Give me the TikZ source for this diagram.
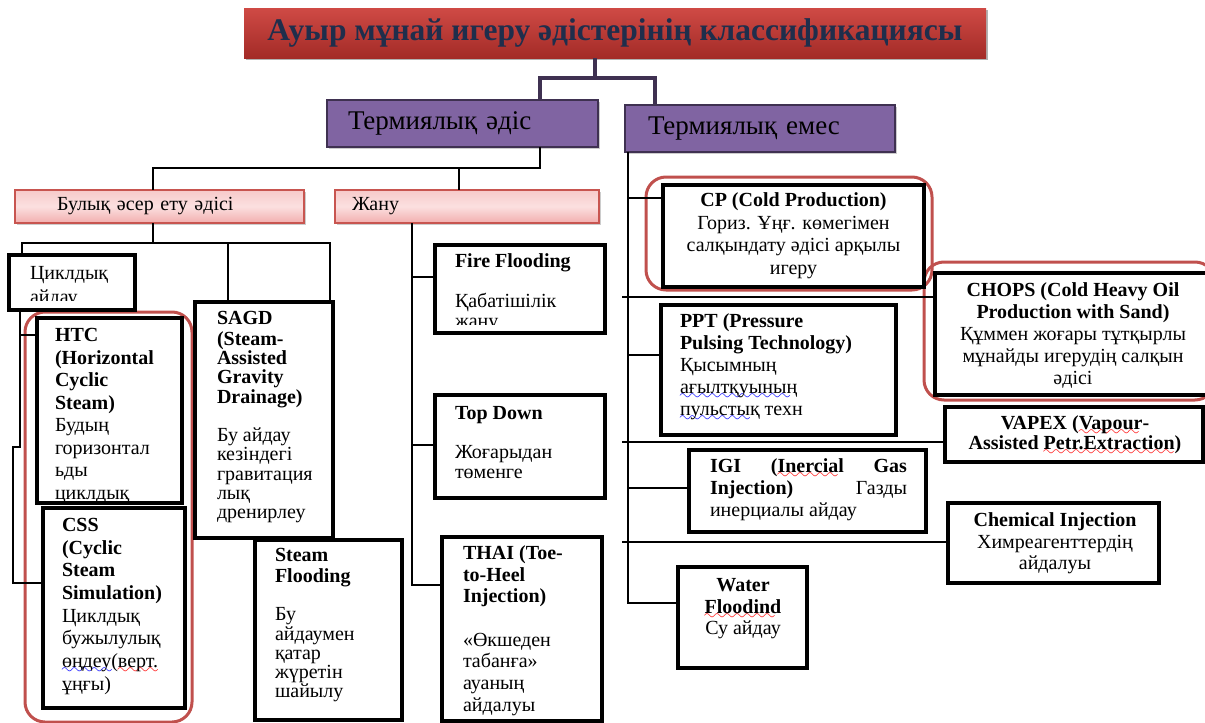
\documentclass[tikz,border=0pt]{standalone}
\usepackage{fontspec}
\setmainfont{Liberation Serif}
\usepackage{tikz}
\usetikzlibrary{positioning, shadows}

\definecolor{titletop}{HTML}{CF4A45}
\definecolor{titlebot}{HTML}{A32B27}
\definecolor{titleink}{HTML}{1F2E4C}
\definecolor{groupfill}{HTML}{8064A2}
\definecolor{groupline}{HTML}{3F3151}
\definecolor{subtop}{HTML}{F7CACA}
\definecolor{submid}{HTML}{FBE0E0}
\definecolor{subbot}{HTML}{F2AEAE}
\definecolor{subline}{HTML}{C85550}
\definecolor{marker}{HTML}{C0504D}

% spell-check style wavy underline
\font\wavefont=lasy10 at 15pt
\newcommand{\wavy}[2]{\setbox0\hbox{#2}\rlap{\lower6pt\hbox to \wd0{\color{#1}\leaders\hbox{\wavefont\char58}\hfill}}\box0\relax}
\newcommand{\textinset}{0pt}

\begin{document}
\begin{tikzpicture}[x=1pt, y=-1pt,
        heading/.style={rectangle, outer sep=0pt, minimum width=742pt, minimum height=50pt, top color=titletop, bottom color=titlebot, text=titleink, font=\bfseries\fontsize{31.5}{34}\selectfont, drop shadow={shadow xshift=2pt, shadow yshift=-2pt, opacity=0.3, fill=black}},
        group/.style={rectangle, draw=groupline, line width=2.5pt, fill=groupfill, anchor=north west, outer sep=0pt, minimum height=47pt, align=left, font=\fontsize{27}{30}\selectfont, drop shadow={shadow xshift=1.5pt, shadow yshift=-1.5pt, opacity=0.2, fill=black}},
        subgroup/.style={rectangle, draw=subline, line width=1.2pt, top color=subtop, bottom color=subbot, middle color=submid, anchor=north west, outer sep=0pt, minimum height=33pt, align=left, font=\fontsize{20}{23}\selectfont, drop shadow={shadow xshift=1.5pt, shadow yshift=-2pt, opacity=0.2, fill=black}},
        method/.style={rectangle, draw=black, line width=3.2pt, fill=white, anchor=north west, outer sep=0pt, inner sep=0pt},
        inbox/.style={draw=none, fill=none, minimum width=0pt, minimum height=0pt, inner sep=0pt, line width=0.4pt},
        inset/.code={\def\textinset{#1}},
        lefttext/.style n args={3}{path picture={\clip ([yshift=\textinset]path picture bounding box.south west) rectangle (path picture bounding box.north east); \node[inbox, anchor=north west, align=left, font=\fontsize{20}{#2}\selectfont] at ([shift={#1}]path picture bounding box.north west) {\strut#3};}},
        midtext/.style n args={3}{path picture={\node[inbox, anchor=north, align=center, font=\fontsize{20}{#2}\selectfont] at ([shift={#1}]path picture bounding box.north) {\strut#3};}},
        link/.style={draw=black, line width=1.1pt},
        trunk/.style={draw=groupline, line width=4.5pt},
        marked/.style={draw=marker, line width=3pt, rounded corners=20pt}
    ]
    \useasboundingbox (0,0) rectangle (1205,723);
    \clip (0,0) rectangle (1205,723);

    % highlighted methods
    \draw[marked] (25,312) rectangle (192,722);
    \draw[marked] (646,177) rectangle (932,290);
    \draw[marked] (924,262) rectangle (1215,400);

    % headings
    \node[heading] (title) at (615,33) {Ауыр мұнай игеру әдістерінің классификациясы};
    \node[group, text width=229pt, inner xsep=21pt] (therm) at (327,100) {Термиялық әдіс};
    \node[group, text width=224pt, inner xsep=23pt] (nontherm) at (625,105) {Термиялық емес};
    \node[subgroup, text width=205pt, inner xsep=42pt] (steam) at (15,190) {Булық әсер ету әдісі};
    \node[subgroup, text width=230pt, inner xsep=17pt] (burn) at (335,190) {\raisebox{-4pt}{Жану}};

    % thermal methods
    \node[method, minimum width=126pt, minimum height=55pt, inset=10pt,
        lefttext={(21pt,-7.1pt)}{24.5}{Циклдық\\айдау}] (cyc) at (9,255) {};
    \node[method, minimum width=145pt, minimum height=185pt, inset=3pt,
        lefttext={(18pt,-7.8pt)}{22.5}{\textbf{HTC}\\\textbf{(Horizontal}\\\textbf{Cyclic}\\\textbf{Steam)}\\Будың\\горизонтал\\ьды\\циклдық}] (htc) at (37,318) {};
    \node[method, minimum width=142pt, minimum height=200pt,
        lefttext={(19pt,-7.6pt)}{22.7}{\textbf{CSS}\\\textbf{(Cyclic}\\\textbf{Steam}\\\textbf{Simulation)}\\Циклдық\\бужылулық\\\wavy{blue}{өңдеу(}\wavy{red}{верт.}\\ұңғы)}] (css) at (43,508) {};
    \node[method, minimum width=138pt, minimum height=236pt,
        lefttext={(22pt,-9pt)}{19.3}{\textbf{SAGD}\\\textbf{(Steam-}\\\textbf{Assisted}\\\textbf{Gravity}\\\textbf{Drainage)}\\ \\Бу айдау\\кезіндегі\\гравитация\\лық\\дренирлеу}] (sagd) at (195,302) {};
    \node[method, minimum width=147pt, minimum height=180pt,
        lefttext={(20pt,-8pt)}{19.3}{\textbf{Steam}\\\textbf{Flooding}\\ \\Бу\\айдаумен\\қатар\\жүретін\\шайылу}] (flood) at (255,540) {};
    \node[method, minimum width=170pt, minimum height=88pt, inset=9pt,
        lefttext={(20pt,-8.5pt)}{20}{\textbf{Fire Flooding}\\ \\Қабатішілік\\жану}] (fire) at (435,245) {};
    \node[method, minimum width=170pt, minimum height=103pt,
        lefttext={(20pt,-10.85pt)}{19.5}{\textbf{Top Down}\\ \\Жоғарыдан\\төменге}] (topdown) at (435,395) {};
    \node[method, minimum width=160pt, minimum height=184pt,
        lefttext={(21pt,-7.3pt)}{21.7}{\textbf{THAI (Toe-}\\\textbf{to-Heel}\\\textbf{Injection)}\\ \\«Өкшеден\\табанға»\\ауаның\\айдалуы}] (thai) at (442,537) {};

    % non-thermal methods
    \node[method, minimum width=261pt, minimum height=102pt,
        midtext={(0pt,-5.6pt)}{22.7}{\textbf{CP (Cold Production)}\\Гориз. Ұңғ. көмегімен\\салқындату әдісі арқылы\\игеру}] (cp) at (663,185) {};
    \node[method, minimum width=280pt, minimum height=122pt,
        midtext={(-2pt,-7.9pt)}{22}{\textbf{CHOPS (Cold Heavy Oil}\\\textbf{Production with Sand)}\\Құммен жоғары тұтқырлы\\мұнайды игерудің салқын\\әдісі}] (chops) at (935,273) {};
    \node[method, minimum width=235pt, minimum height=130pt,
        lefttext={(19pt,-7.1pt)}{22}{\textbf{PPT (Pressure}\\\textbf{Pulsing Technology)}\\Қысымның\\\wavy{blue}{ағылтқуының}\\\wavy{blue}{пульстық} техн}] (ppt) at (661,305) {};
    \node[method, minimum width=258pt, minimum height=55pt,
        midtext={(1pt,-8.5pt)}{20}{\textbf{VAPEX (\wavy{red}{Vapour}-}\\\textbf{Assisted \wavy{red}{Petr.Extraction})}}] (vapex) at (945,407) {};
    \node[method, minimum width=237pt, minimum height=82pt,
        lefttext={(21pt,-7.1pt)}{22}{\hbox to 197pt{\textbf{IGI}\hfill\textbf{(\wavy{red}{Inercial}}\hfill\textbf{Gas}}\\\hbox to 197pt{\textbf{Injection)}\hfill Газды}\\инерциалы айдау}] (igi) at (689,450) {};
    \node[method, minimum width=211pt, minimum height=80pt,
        midtext={(1.5pt,-8.45pt)}{21.5}{\textbf{Chemical Injection}\\Химреагенттердің\\айдалуы}] (chem) at (948,503) {};
    \node[method, minimum width=129pt, minimum height=101pt,
        midtext={(0.5pt,-9.45pt)}{21.5}{\textbf{Water}\\\textbf{\wavy{red}{Floodind}}\\Су айдау}] (water) at (678,567) {};

    % Title to groups
    \coordinate (t1) at (595,78);
    \coordinate (t2) at (540,78);
    \coordinate (t3) at (655,78);
    \draw[trunk] (title.south -| t1) -- (t1);
    \draw[trunk] (t2 |- therm.north) -- (t2) -- (t3) -- (t3 |- nontherm.north);

    % Thermal branch
    \coordinate (b1) at (540,168);
    \coordinate (b1l) at (153,168);
    \coordinate (b1r) at (459,168);
    \draw[link] (b1 |- therm.south) -- (b1) -- (b1l) -- (b1l |- steam.north);
    \draw[link] (b1r) -- (b1r |- burn.north);

    % Steam branch
    \coordinate (b2) at (153,243);
    \coordinate (b2l) at (22,243);
    \coordinate (b2m) at (228,243);
    \coordinate (b2r) at (330,243);
    \draw[link] (b2 |- steam.south) -- (b2);
    \draw[link] (b2l |- cyc.north) -- (b2l) -- (b2r) -- (b2r |- sagd.north);
    \draw[link] (b2m) -- (b2m |- sagd.north);

    % Cyclic branch
    \coordinate (c0) at (20,335);
    \coordinate (c1) at (20,447);
    \coordinate (c2) at (13,447);
    \coordinate (c3) at (13,583);
    \draw[link] (c0 |- cyc.south) -- (c1) -- (c2) -- (c3) -- (c3 -| css.west);
    \draw[link] (c0) -- (c0 -| htc.west);

    % Combustion branch
    \coordinate (d1) at (412,277);
    \coordinate (d2) at (412,445);
    \coordinate (d3) at (412,585);
    \draw[link] (d1 |- burn.south) -- (d3) -- (d3 -| thai.west);
    \draw[link] (d1) -- (d1 -| fire.west);
    \draw[link] (d2) -- (d2 -| topdown.west);

    % Non-thermal branch
    \coordinate (e1) at (628,198);
    \coordinate (e2) at (622,297);
    \coordinate (e3) at (628,355);
    \coordinate (e4) at (622,442);
    \coordinate (e5) at (628,488);
    \coordinate (e6) at (622,542);
    \coordinate (e7) at (628,603);
    \draw[link] (e1 |- nontherm.south) -- (e7) -- (e7 -| water.west);
    \draw[link] (e1) -- (e1 -| cp.west);
    \draw[link] (e2) -- (e2 -| chops.west);
    \draw[link] (e3) -- (e3 -| ppt.west);
    \draw[link] (e4) -- (e4 -| vapex.west);
    \draw[link] (e5) -- (e5 -| igi.west);
    \draw[link] (e6) -- (e6 -| chem.west);
\end{tikzpicture}
\end{document}
